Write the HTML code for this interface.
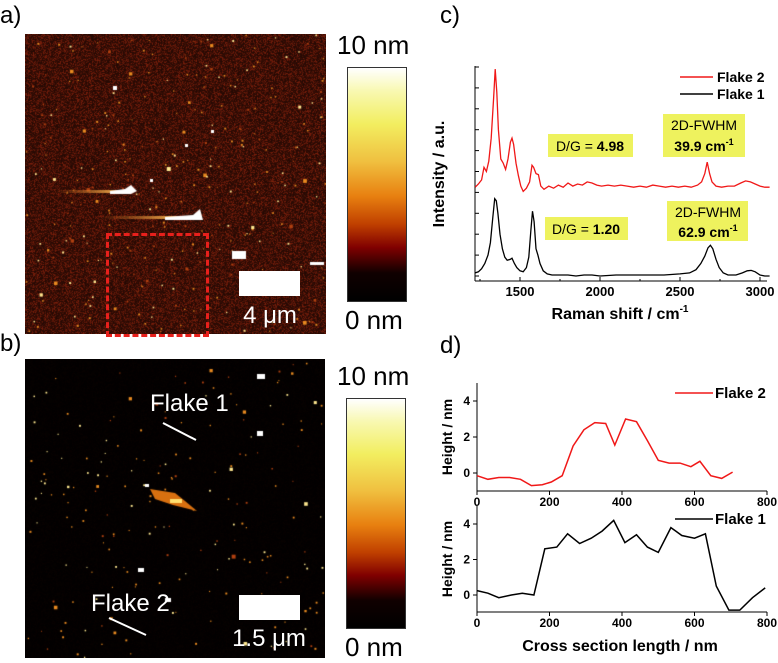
<!DOCTYPE html>
<html><head><meta charset="utf-8"><style>
body{margin:0;background:#fff;width:778px;height:658px;overflow:hidden;font-family:"Liberation Sans",sans-serif}
.abs{position:absolute}
</style></head><body>
<div style="position:relative;width:778px;height:658px">
<div class="abs" style="left:0;top:2px;font-size:24px">a)</div>
<div class="abs" style="left:0;top:330px;font-size:24px">b)</div>
<div class="abs" style="left:440px;top:2px;font-size:24px">c)</div>
<div class="abs" style="left:440px;top:332px;font-size:24px">d)</div>

<canvas id="afmA" class="abs" style="left:25px;top:34px" width="301" height="300"></canvas>
<canvas id="afmB" class="abs" style="left:25px;top:359px" width="300" height="299"></canvas>

<div class="abs" style="left:106px;top:233px;width:97px;height:98px;border:3px dashed #e8201c"></div>
<div class="abs" style="left:239px;top:271px;width:61px;height:25px;background:#fff"></div>
<div class="abs" style="left:230px;top:302px;width:80px;text-align:center;color:#fff;font-size:24px">4 μm</div>
<div class="abs" style="left:239px;top:595px;width:61px;height:25px;background:#fff"></div>
<div class="abs" style="left:222px;top:625px;width:94px;text-align:center;color:#fff;font-size:24px">1.5 μm</div>
<div class="abs" style="left:150px;top:390px;color:#fff;font-size:24px">Flake 1</div>
<div class="abs" style="left:91px;top:590px;color:#fff;font-size:24px">Flake 2</div>
<svg class="abs" style="left:0;top:0" width="330" height="658">
<line x1="163" y1="423" x2="196" y2="440" stroke="#fff" stroke-width="2"/>
<line x1="109" y1="618" x2="146" y2="635" stroke="#fff" stroke-width="2"/>
</svg>

<div class="abs" style="left:337px;top:30px;font-size:26px">10 nm</div>
<div class="abs" style="left:347px;top:67px;width:58px;height:233px;border:1px solid #333;background:linear-gradient(#fff 0%,#f8f8b0 10%,#f2ee60 24%,#f0c040 40%,#e88010 55%,#c04000 67%,#800000 77%,#100000 88%,#000 100%)"></div>
<div class="abs" style="left:345px;top:305px;font-size:26px">0 nm</div>
<div class="abs" style="left:337px;top:361px;font-size:26px">10 nm</div>
<div class="abs" style="left:346px;top:398px;width:58px;height:229px;border:1px solid #333;background:linear-gradient(#fff 0%,#f8f8b0 10%,#f2ee60 24%,#f0c040 40%,#e88010 55%,#c04000 67%,#800000 77%,#100000 88%,#000 100%)"></div>
<div class="abs" style="left:345px;top:632px;font-size:26px">0 nm</div>

<svg id="chartC" class="abs" style="left:420px;top:40px" width="358" height="280"></svg>
<svg id="chartD" class="abs" style="left:420px;top:360px" width="358" height="298"></svg>
</div>
<script>
// ---- Raman data ----
const ramanX2=[1220,1240,1260,1275,1290,1305,1320,1335,1345,1355,1365,1380,1395,1410,1425,1440,1450,1460,1475,1490,1505,1520,1540,1560,1575,1585,1600,1615,1630,1650,1680,1710,1740,1770,1800,1830,1860,1890,1920,1950,1980,2010,2050,2090,2130,2170,2210,2250,2290,2330,2370,2410,2450,2490,2530,2570,2610,2635,2655,2670,2685,2700,2725,2760,2800,2840,2880,2910,2940,2970,3000,3030,3060];
const ramanY2=[4.25,4.4,4.6,5.2,5.0,5.5,6.6,8.5,9.9,8.8,7.0,5.6,5.4,5.1,5.6,6.4,6.6,6.3,5.4,4.8,4.3,4.05,4.2,4.5,5.3,5.2,4.9,4.85,4.3,4.15,4.3,4.2,4.35,4.25,4.45,4.3,4.4,4.35,4.5,4.45,4.35,4.3,4.35,4.3,4.35,4.3,4.25,4.3,4.25,4.35,4.3,4.25,4.3,4.25,4.3,4.25,4.35,4.5,4.9,5.45,4.9,4.5,4.3,4.25,4.3,4.3,4.45,4.55,4.5,4.4,4.3,4.25,4.25];
const ramanX1=[1220,1240,1260,1280,1300,1315,1330,1342,1352,1362,1375,1390,1405,1420,1440,1450,1465,1480,1500,1520,1540,1555,1568,1578,1588,1600,1612,1625,1645,1670,1700,1750,1800,1850,1900,1950,2000,2100,2200,2300,2400,2500,2560,2600,2630,2655,2675,2690,2705,2725,2745,2770,2800,2850,2890,2920,2945,2970,3000,3030,3060];
const ramanY1=[0.15,0.2,0.35,0.6,1.0,1.6,2.8,3.7,3.6,3.0,2.0,1.3,0.9,0.75,0.8,0.85,0.6,0.4,0.25,0.2,0.4,0.9,2.2,3.1,2.6,1.3,1.0,0.6,0.25,0.1,0.05,0.05,0.05,0.0,0.05,0.05,0.0,0.05,0.05,0.05,0.05,0.1,0.15,0.3,0.6,0.95,1.35,1.47,1.3,0.8,0.4,0.15,0.05,0.05,0.15,0.25,0.27,0.2,0.05,0.0,0.0];
const ramanTicks=[1500,2000,2500,3000];
// ---- Height profiles ----
const profX2=[0,30,60,90,120,150,180,205,235,265,295,325,355,380,410,440,470,500,530,560,590,615,645,675,705];
const profY2=[-0.15,-0.35,-0.25,-0.25,-0.35,-0.7,-0.65,-0.5,-0.15,1.5,2.4,2.8,2.75,1.55,3.0,2.85,1.8,0.7,0.55,0.55,0.35,0.65,-0.15,-0.3,0.05];
const profX1=[0,30,60,95,125,157,187,220,250,283,315,345,377,408,440,470,500,535,565,600,630,660,695,725,760,795];
const profY1=[0.25,0.1,-0.15,0,0.1,0,2.6,2.7,3.45,2.9,3.2,3.6,4.2,2.95,3.4,2.7,2.4,3.8,3.35,3.2,3.45,0.5,-0.85,-0.85,-0.15,0.4];
const profXTicks=[0,200,400,600,800];
const profYTicks=[0,2,4];

const NS='http://www.w3.org/2000/svg';
function mk(svg,tag,attrs,name){const e=document.createElementNS(NS,tag);for(const k in attrs)e.setAttribute(k,attrs[k]);


svg.appendChild(e);return e;}
function txt(svg,x,y,s,attrs,name){const t=mk(svg,'text',Object.assign({x:x,y:y,'font-family':'Liberation Sans, sans-serif'},attrs),name);t.textContent=s;return t;}
function path(xs,ys,fx,fy){return xs.map((v,i)=>(i?'L':'M')+fx(v).toFixed(1)+','+fy(ys[i]).toFixed(1)).join('');}

// chart C
(function(){
const s=document.getElementById('chartC');
const x=v=>100+(v-1500)*0.16, y=v=>236-v*20.9;
const L=55,R=347,T=26,B=241;
mk(s,'line',{x1:L,y1:T,x2:L,y2:B,stroke:'#000','stroke-width':1},'y-axis');
mk(s,'line',{x1:L,y1:B,x2:R,y2:B,stroke:'#000','stroke-width':1},'x-axis');
for(let i=0;i<=10;i++)mk(s,'line',{x1:L,y1:y(i),x2:L+4,y2:y(i),stroke:'#000'},'y-tick');
ramanTicks.forEach(t=>{mk(s,'line',{x1:x(t),y1:B,x2:x(t),y2:B-4,stroke:'#000'},'x-tick');
txt(s,x(t),256,t,{'font-size':13,'font-weight':'bold','text-anchor':'middle'},'x-tick-label');});
for(let t=1250;t<3100;t+=500)mk(s,'line',{x1:x(t),y1:B,x2:x(t),y2:B-2,stroke:'#000'},'x-minor-tick');
mk(s,'path',{d:path(ramanX2,ramanY2,x,y),fill:'none',stroke:'#f01818','stroke-width':1.3},'flake2-spectrum');
mk(s,'path',{d:path(ramanX1,ramanY1,x,y),fill:'none',stroke:'#000','stroke-width':1.3},'flake1-spectrum');
txt(s,200,279,'',{'font-size':16,'font-weight':'bold','text-anchor':'middle'},'x-axis-title').innerHTML='Raman shift / cm<tspan font-size="10" dy="-7">-1</tspan>';
txt(s,24,134,'Intensity / a.u.',{'font-size':16,'font-weight':'bold','text-anchor':'middle',transform:'rotate(-90 24 134)'},'y-axis-title');
mk(s,'line',{x1:260,y1:37,x2:293,y2:37,stroke:'#f01818','stroke-width':1.5},'legend-flake2-line');
txt(s,297,42,'Flake 2',{'font-size':14,'font-weight':'bold'},'legend-flake2');
mk(s,'line',{x1:260,y1:54,x2:293,y2:54,stroke:'#000','stroke-width':1.5},'legend-flake1-line');
txt(s,297,59,'Flake 1',{'font-size':14,'font-weight':'bold'},'legend-flake1');
function box(x0,y0,w,h,name){mk(s,'rect',{x:x0,y:y0,width:w,height:h,fill:'#eef25e'},name);}
box(128,94,85,23,'dg-box-flake2');
txt(s,170,111,'',{'font-size':14,'text-anchor':'middle'},'dg-label-flake2').innerHTML='D/G = <tspan font-weight="bold">4.98</tspan>';
box(243,74,82,43,'fwhm-box-flake2');
txt(s,284,90,'2D-FWHM',{'font-size':14,'text-anchor':'middle'},'fwhm-title-flake2');
txt(s,284,111,'',{'font-size':14,'font-weight':'bold','text-anchor':'middle'},'fwhm-value-flake2').innerHTML='39.9 cm<tspan font-size="9" dy="-6">-1</tspan>';
box(125,177,83,23,'dg-box-flake1');
txt(s,166,194,'',{'font-size':14,'text-anchor':'middle'},'dg-label-flake1').innerHTML='D/G = <tspan font-weight="bold">1.20</tspan>';
box(247,161,81,40,'fwhm-box-flake1');
txt(s,288,177,'2D-FWHM',{'font-size':14,'text-anchor':'middle'},'fwhm-title-flake1');
txt(s,288,197,'',{'font-size':14,'font-weight':'bold','text-anchor':'middle'},'fwhm-value-flake1').innerHTML='62.9 cm<tspan font-size="9" dy="-6">-1</tspan>';
})();

// chart D
(function(){
const s=document.getElementById('chartD');
const L=57,R=347;
const x=v=>L+v*(R-L)/800;
function plot(top,bot,y0px,y4px,xs,ys,col,name,ly,label){
 const y=v=>y0px+(y4px-y0px)*v/4;
 mk(s,'line',{x1:L,y1:top,x2:L,y2:bot,stroke:'#000'},name+'-y-axis');
 mk(s,'line',{x1:L,y1:bot,x2:R,y2:bot,stroke:'#000'},name+'-x-axis');
 profYTicks.forEach(t=>{mk(s,'line',{x1:L,y1:y(t),x2:L-4,y2:y(t),stroke:'#000'},name+'-y-tick');
  txt(s,L-7,y(t)+4,t,{'font-size':12,'font-weight':'bold','text-anchor':'end'},name+'-y-tick-label');});
 profXTicks.forEach(t=>{mk(s,'line',{x1:x(t),y1:bot,x2:x(t),y2:bot+4,stroke:'#000'},name+'-x-tick');
  txt(s,x(t),bot+15,t,{'font-size':12,'font-weight':'bold','text-anchor':'middle'},name+'-x-tick-label');});
 mk(s,'path',{d:path(xs,ys,x,y),fill:'none',stroke:col,'stroke-width':1.5},name+'-line');
 mk(s,'line',{x1:255,y1:ly,x2:293,y2:ly,stroke:col,'stroke-width':1.5},name+'-legend-line');
 txt(s,295,ly+5,label,{'font-size':15,'font-weight':'bold'},name+'-legend');
 const c=(top+bot)/2;
 txt(s,32,c,'Height / nm',{'font-size':14,'font-weight':'bold','text-anchor':'middle',transform:'rotate(-90 32 '+c+')'},name+'-y-title');
}
plot(23,131,113,41,profX2,profY2,'#f01818','flake2-profile',33,'Flake 2');
plot(146,252,235,164,profX1,profY1,'#000','flake1-profile',159,'Flake 1');
txt(s,200,291,'Cross section length / nm',{'font-size':16,'font-weight':'bold','text-anchor':'middle'},'x-axis-title');
})();

// AFM textures (decorative)
function afm(id,base,noise,spots){
 const c=document.getElementById(id),g=c.getContext('2d'),W=c.width,H=c.height;
 const im=g.createImageData(W,H);let sd=12345;
 const r=()=>{sd=(sd*1103515245+12345)&0x7fffffff;return sd/0x7fffffff;};
 for(let i=0;i<W*H;i++){const n=r();const k=base[3]+n*n*noise;
  im.data[i*4]=Math.min(255,base[0]*k);im.data[i*4+1]=Math.min(255,base[1]*k);im.data[i*4+2]=Math.min(255,base[2]*k);im.data[i*4+3]=255;}
 g.putImageData(im,0,0);
 for(let i=0;i<spots;i++){const px=r()*W,py=r()*H,sz=r()<0.9?1+r():2+r()*2;
  g.fillStyle=r()<0.5?'#e88a20':(r()<0.5?'#ffe890':'#b04010');g.fillRect(px,py,sz,sz);}
 return {g,r};
}
const A=afm('afmA',[90,22,8,0.4],1.0,320),ga=A.g;
const gr=ga.createLinearGradient(30,0,95,0);gr.addColorStop(0,'rgba(230,120,30,0)');gr.addColorStop(1,'#f0b050');
ga.fillStyle=gr;ga.fillRect(30,156,70,3);
ga.fillStyle='#fff';ga.beginPath();ga.moveTo(85,157);ga.lineTo(100,155);ga.lineTo(106,151);ga.lineTo(112,157);ga.lineTo(106,160);ga.lineTo(85,160);ga.fill();
const gr2=ga.createLinearGradient(75,0,150,0);gr2.addColorStop(0,'rgba(230,120,30,0)');gr2.addColorStop(1,'#f0b050');
ga.fillStyle=gr2;ga.fillRect(75,182,80,3);
ga.fillStyle='#fff';ga.beginPath();ga.moveTo(140,183);ga.lineTo(168,181);ga.lineTo(175,175);ga.lineTo(178,186);ga.lineTo(140,186);ga.fill();
ga.fillRect(207,217,14,8);ga.fillRect(285,228,14,3);ga.fillRect(88,52,4,4);ga.fillRect(186,96,3,3);ga.fillRect(160,110,3,3);ga.fillRect(125,145,3,3);
const B=afm('afmB',[20,4,2,0.1],0.3,200),gb=B.g;
gb.fillStyle='#d87010';gb.beginPath();gb.moveTo(125,130);gb.lineTo(150,134);gb.lineTo(160,142);gb.lineTo(172,152);gb.lineTo(148,146);gb.lineTo(130,140);gb.fill();
gb.fillStyle='#ffe070';gb.fillRect(145,140,12,4);
gb.fillStyle='#fff';gb.fillRect(232,15,8,5);gb.fillRect(232,72,6,5);gb.fillRect(113,209,6,4);gb.fillRect(140,239,6,4);gb.fillRect(120,125,4,3);
</script>
</body></html>
